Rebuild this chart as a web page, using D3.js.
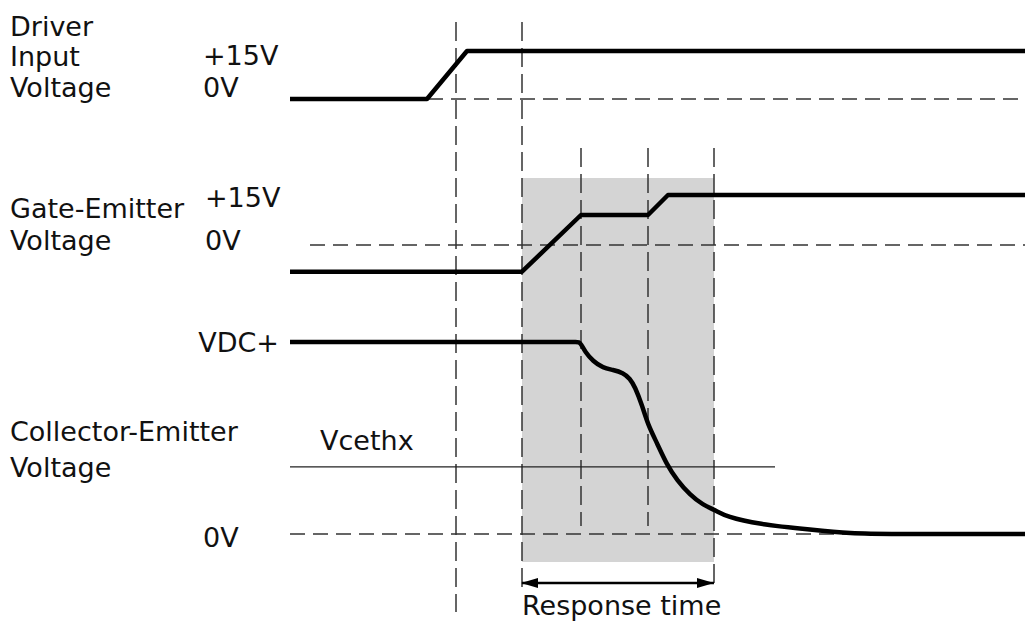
<!DOCTYPE html>
<html>
<head>
<meta charset="utf-8">
<script src="https://cdn.jsdelivr.net/npm/d3@7"></script>
<style>
  body { margin: 0; background: #fff; }
  text { font-family: "DejaVu Sans", Verdana, sans-serif; font-size: 27px; fill: #111; }
</style>
</head>
<body>
<script>
// time axis in arbitrary units, 0 = start of traces
var markTimes = [166, 232, 291, 358, 424];

var driverT = [0, 137, 177, 735];
var driverV = [0, 0, 15, 15];

var gateT = [0, 232, 291, 358, 378, 735];
var gateV = [-8, -8, 9, 9, 15, 15];

// collector-emitter as fraction of VDC+
var ceT = [0, 100, 200, 280, 286, 289, 291, 295, 303, 313, 323, 333, 340, 345, 352, 358, 367, 377, 387, 400, 413, 425, 437, 467, 523, 560, 600, 700, 735];
var ceV = [1, 1, 1, 1, 1, 1, 0.99, 0.95, 0.9, 0.865, 0.855, 0.84, 0.81, 0.766, 0.672, 0.568, 0.474, 0.359, 0.281, 0.203, 0.151, 0.125, 0.089, 0.052, 0.021, 0.003, 0, 0, 0];

var vcethx = 0.35;

var w = 1025, h = 628;

var svg = d3.select("body").append("svg")
  .attr("width", w)
  .attr("height", h);

var x = d3.scaleLinear().domain([0, 735]).range([290, 1025]);
var yDriver = d3.scaleLinear().domain([0, 15]).range([99, 51]);
var yGate = d3.scaleLinear().domain([0, 15]).range([245, 195]);
var yCe = d3.scaleLinear().domain([0, 1]).range([534, 342]);

var defs = svg.append("defs");
["start", "end"].forEach(function(k) {
  defs.append("marker")
    .attr("id", "arr-" + k)
    .attr("markerUnits", "userSpaceOnUse")
    .attr("markerWidth", 18)
    .attr("markerHeight", 12)
    .attr("refX", k == "end" ? 17 : 1)
    .attr("refY", 6)
    .attr("orient", "auto")
    .append("path")
    .attr("d", k == "end" ? "M0,1L17,6L0,11Z" : "M17,1L0,6L17,11Z")
    .attr("fill", "#000");
});

// shaded response window
svg.append("rect")
  .attr("x", x(markTimes[1]))
  .attr("y", 178)
  .attr("width", x(markTimes[4]) - x(markTimes[1]))
  .attr("height", 562 - 178)
  .attr("fill", "#d4d4d4");

// vertical dashed markers
var markSpan = [[22, 612], [22, 590], [148, 526], [148, 526], [148, 590]];
svg.selectAll(".vmark")
  .data(markTimes)
  .enter()
  .append("line")
  .attr("class", "vmark")
  .attr("x1", function(d) { return x(d); })
  .attr("x2", function(d) { return x(d); })
  .attr("y1", function(d, i) { return markSpan[i][0]; })
  .attr("y2", function(d, i) { return markSpan[i][1]; })
  .attr("stroke", "#333")
  .attr("stroke-width", 1.5)
  .attr("stroke-dasharray", "19,7");

// horizontal 0V references
var zeroLines = [
  { y: yDriver(0), t0: 0 },
  { y: yGate(0), t0: 20 },
  { y: yCe(0), t0: 0 }
];
svg.selectAll(".hzero")
  .data(zeroLines)
  .enter()
  .append("line")
  .attr("class", "hzero")
  .attr("x1", function(d) { return x(d.t0); })
  .attr("x2", x(735))
  .attr("y1", function(d) { return d.y; })
  .attr("y2", function(d) { return d.y; })
  .attr("stroke", "#333")
  .attr("stroke-width", 1.5)
  .attr("stroke-dasharray", "15,8");

// threshold line
svg.append("line")
  .attr("x1", x(0))
  .attr("x2", x(485))
  .attr("y1", yCe(vcethx))
  .attr("y2", yCe(vcethx))
  .attr("stroke", "#222")
  .attr("stroke-width", 1.3);

var drawTrace = function(ts, vs, yScale, curve) {
  var pts = ts.map(function(t, i) { return [t, vs[i]]; });
  var line = d3.line()
    .x(function(d) { return x(d[0]); })
    .y(function(d) { return yScale(d[1]); })
    .curve(curve);
  svg.append("path")
    .attr("d", line(pts))
    .attr("fill", "none")
    .attr("stroke", "#000")
    .attr("stroke-width", 4.5)
    .attr("stroke-linejoin", "round");
};

drawTrace(driverT, driverV, yDriver, d3.curveLinear);
drawTrace(gateT, gateV, yGate, d3.curveLinear);
drawTrace(ceT, ceV, yCe, d3.curveBasis);

// response time arrow
svg.append("line")
  .attr("x1", x(markTimes[1]))
  .attr("x2", x(markTimes[4]))
  .attr("y1", 583)
  .attr("y2", 583)
  .attr("stroke", "#000")
  .attr("stroke-width", 2.5)
  .attr("marker-start", "url(#arr-start)")
  .attr("marker-end", "url(#arr-end)");

var labels = [
  { t: "Driver", x: 10, y: 36 },
  { t: "Input", x: 10, y: 66 },
  { t: "Voltage", x: 10, y: 97 },
  { t: "+15V", x: 203, y: 65 },
  { t: "0V", x: 203, y: 97 },
  { t: "Gate-Emitter", x: 10, y: 218 },
  { t: "+15V", x: 205, y: 207 },
  { t: "Voltage", x: 10, y: 250 },
  { t: "0V", x: 205, y: 250 },
  { t: "VDC+", x: 279, y: 352, anchor: "end" },
  { t: "Collector-Emitter", x: 10, y: 441 },
  { t: "Voltage", x: 10, y: 477 },
  { t: "Vcethx", x: 320, y: 450 },
  { t: "0V", x: 203, y: 547 },
  { t: "Response time", x: 522, y: 615 }
];

svg.selectAll(".lbl")
  .data(labels)
  .enter()
  .append("text")
  .attr("class", "lbl")
  .attr("x", function(d) { return d.x; })
  .attr("y", function(d) { return d.y; })
  .attr("text-anchor", function(d) { return d.anchor || "start"; })
  .text(function(d) { return d.t; });
</script>
</body>
</html>
